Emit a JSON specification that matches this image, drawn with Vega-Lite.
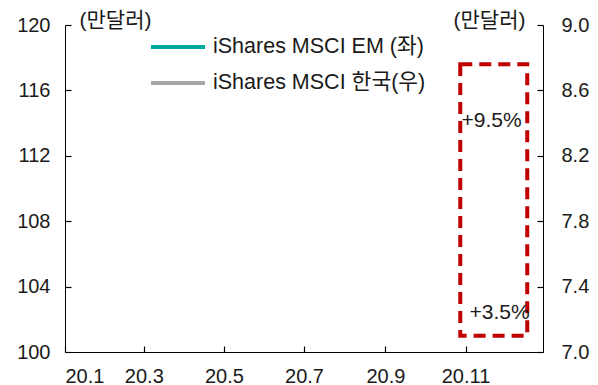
{
  "$schema": "https://vega.github.io/schema/vega-lite/v6.json",
  "width": 478,
  "height": 327,
  "autosize": {"type": "none"},
  "padding": {"left": 65, "top": 25, "right": 55, "bottom": 33},
  "config": {
    "view": {"stroke": null},
    "font": "Liberation Sans, Noto Sans CJK KR",
    "axis": {
      "grid": false,
      "domainColor": "#000000",
      "domainWidth": 1,
      "ticks": true,
      "tickColor": "#000000",
      "tickWidth": 1.2,
      "tickSize": -6,
      "labelFontSize": 20,
      "labelColor": "#1a1a1a",
      "labelFont": "Liberation Sans, Noto Sans CJK KR",
      "titleFont": "Liberation Sans, Noto Sans CJK KR",
      "titleFontSize": 21,
      "titleFontWeight": "normal",
      "titleColor": "#1a1a1a"
    }
  },
  "datasets": {
    "series": [
      {"date": null, "em": null, "kr": null, "series": "iShares MSCI EM (좌)"},
      {"date": null, "em": null, "kr": null, "series": "iShares MSCI 한국(우)"}
    ],
    "box": [
      {"start": "2020-10-28", "end": "2020-12-18", "top": 117.6, "bottom": 101.0}
    ],
    "notes": [
      {"date": "2020-10-29", "value": 114.1, "label": "+9.5%"},
      {"date": "2020-11-04", "value": 102.4, "label": "+3.5%"}
    ]
  },
  "encoding": {
    "x": {
      "field": "date",
      "type": "temporal",
      "scale": {
        "type": "utc",
        "domain": [
          {"year": 2020, "month": 1, "date": 1, "utc": true},
          {"year": 2020, "month": 12, "date": 30, "utc": true}
        ]
      },
      "axis": {
        "title": null,
        "ticks": true,
        "tickSize": -6,
        "labelPadding": 20,
        "labelBaseline": "top",
        "values": [
          {"year": 2020, "month": 1, "date": 1, "utc": true},
          {"year": 2020, "month": 3, "date": 1, "utc": true},
          {"year": 2020, "month": 5, "date": 1, "utc": true},
          {"year": 2020, "month": 7, "date": 1, "utc": true},
          {"year": 2020, "month": 9, "date": 1, "utc": true},
          {"year": 2020, "month": 11, "date": 1, "utc": true}
        ],
        "labelExpr": "utcFormat(datum.value, '%y') + '.' + (utcmonth(datum.value) + 1)"
      }
    }
  },
  "layer": [
    {
      "layer": [
        {
          "data": {"name": "series"},
          "mark": {"type": "line", "strokeWidth": 3},
          "encoding": {
            "y": {
              "field": "em",
              "type": "quantitative",
              "scale": {"domain": [100, 120], "nice": false, "zero": false},
              "axis": {
                "orient": "left",
                "ticks": true,
                "tickSize": -6,
                "values": [100, 104, 108, 112, 116, 120],
                "labelPadding": 21,
                "title": "(만달러)",
                "titleAngle": 0,
                "titleAlign": "left",
                "titleBaseline": "middle",
                "titleX": 14,
                "titleY": -5
              }
            },
            "color": {
              "field": "series",
              "type": "nominal",
              "scale": {
                "domain": ["iShares MSCI EM (좌)", "iShares MSCI 한국(우)"],
                "range": ["#00A99D", "#A6A6A6"]
              },
              "legend": {
                "title": null,
                "orient": "none",
                "legendX": 84,
                "legendY": 5,
                "padding": 0,
                "symbolType": "stroke",
                "symbolSize": 2916,
                "symbolStrokeWidth": 4,
                "clipHeight": 34,
                "rowPadding": 2,
                "labelOffset": 6,
                "labelFontSize": 21.5,
                "labelColor": "#1a1a1a",
                "labelFont": "Liberation Sans, Noto Sans CJK KR",
                "labelLimit": 400
              }
            }
          }
        },
        {
          "data": {"name": "box"},
          "mark": {
            "type": "rect",
            "fill": null,
            "filled": false,
            "stroke": "#C00000",
            "strokeWidth": 4,
            "strokeDash": [12, 7]
          },
          "encoding": {
            "x": {"field": "start", "type": "temporal"},
            "x2": {"field": "end"},
            "y": {"field": "top", "type": "quantitative"},
            "y2": {"field": "bottom"}
          }
        },
        {
          "data": {"name": "notes"},
          "mark": {
            "type": "text",
            "align": "left",
            "baseline": "middle",
            "fontSize": 21,
            "color": "#1a1a1a",
            "font": "Liberation Sans, Noto Sans CJK KR"
          },
          "encoding": {
            "y": {"field": "value", "type": "quantitative"},
            "text": {"field": "label"}
          }
        }
      ]
    },
    {
      "data": {"name": "series"},
      "mark": {"type": "line"},
      "encoding": {
        "y": {
          "field": "kr",
          "type": "quantitative",
          "scale": {"domain": [7, 9], "nice": false, "zero": false},
          "axis": {
            "orient": "right",
            "ticks": true,
            "tickSize": -6,
            "values": [7, 7.4, 7.8, 8.2, 8.6, 9],
            "format": ".1f",
            "labelPadding": 24,
            "title": "(만달러)",
            "titleAngle": 0,
            "titleAlign": "right",
            "titleBaseline": "middle",
            "titleX": -18,
            "titleY": -5
          }
        }
      }
    }
  ],
  "resolve": {"scale": {"y": "independent"}}
}
